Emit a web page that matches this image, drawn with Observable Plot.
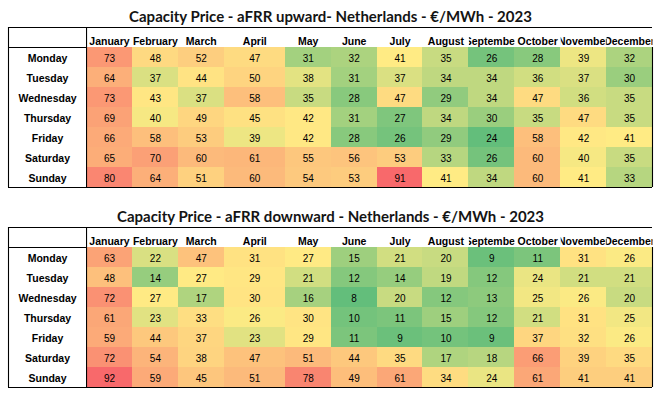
<!DOCTYPE html>
<html>
<head>
<meta charset="utf-8">
<script src="https://cdn.jsdelivr.net/npm/d3@7"></script>
<script src="https://cdn.jsdelivr.net/npm/@observablehq/plot@0.6"></script>
<style>
  body { margin: 0; background: #fff; }
  .block { width: 665px; height: 200px; position: relative; }
  .title { position: absolute; left: 8px; width: 645px; top: 7px; height: 20px; line-height: 20px;
           text-align: center; font: bold 15px Lato, "Open Sans", sans-serif; color: #141414; }
  .block svg { position: absolute; left: 0; top: 26px; display: block; }
</style>
</head>
<body>
<div id="root"></div>
<script>
const months = ["January","February","March","April","May","June","July","August","September","October","November","December"];
const days = ["Monday","Tuesday","Wednesday","Thursday","Friday","Saturday","Sunday"];

const titleUp = "Capacity Price - aFRR upward- Netherlands - €/MWh - 2023";
const titleDown = "Capacity Price - aFRR downward - Netherlands - €/MWh - 2023";

const upMonday    = [73,48,52,47,31,32,41,35,26,28,39,32];
const upTuesday   = [64,37,44,50,38,31,37,34,34,36,37,30];
const upWednesday = [73,43,37,58,35,28,47,29,34,47,36,35];
const upThursday  = [69,40,49,45,42,31,27,34,30,35,47,35];
const upFriday    = [66,58,53,39,42,28,26,29,24,58,42,41];
const upSaturday  = [65,70,60,61,55,56,53,33,26,60,40,35];
const upSunday    = [80,64,51,60,54,53,91,41,34,60,41,33];

const downMonday    = [63,22,47,31,27,15,21,20,9,11,31,26];
const downTuesday   = [48,14,27,29,21,12,14,19,12,24,21,21];
const downWednesday = [72,27,17,30,16,8,20,12,13,25,26,20];
const downThursday  = [61,23,33,26,30,10,11,15,12,21,31,25];
const downFriday    = [59,44,37,23,29,11,9,10,9,37,32,26];
const downSaturday  = [72,54,38,47,51,44,35,17,18,66,39,35];
const downSunday    = [92,59,45,51,78,49,61,34,24,61,41,41];

const upward = [upMonday, upTuesday, upWednesday, upThursday, upFriday, upSaturday, upSunday];
const downward = [downMonday, downTuesday, downWednesday, downThursday, downFriday, downSaturday, downSunday];

// layout (column widths in relative units)
const LABEL_SPAN = 1.7;
const colSpan = m => (m === "April" ? 1.33 : 1);
const cols = [];
{
  let acc = 0;
  for (const m of months) { const w = colSpan(m); cols.push({month: m, x1: acc, x2: acc + w, xm: acc + w / 2}); acc += w; }
}
const TOTAL = d3.sum(months, colSpan);
let clipId = 0;

function makeTable(values, title) {
  const block = document.createElement("div");
  block.className = "block";
  const t = document.createElement("div");
  t.className = "title";
  t.textContent = title;
  block.appendChild(t);

  const cells = days.flatMap((d, i) => months.map((m, j) => ({day: d, row: i + 1, ...cols[j], value: values[i][j]})));
  const vals = cells.map(d => d.value);
  const nRows = days.length + 1;
  const lw = 1.1;

  const chart = Plot.plot({
    width: 665, height: 162,
    marginLeft: 8, marginRight: 13, marginTop: 1, marginBottom: 1,
    x: {domain: [-LABEL_SPAN, TOTAL], axis: null},
    y: {domain: [0, nRows], reverse: true, axis: null},
    color: {type: "linear", domain: [d3.min(vals), d3.median(vals), d3.max(vals)],
            range: ["#63BE7B", "#FFEB84", "#F8696B"], interpolate: "rgb"},
    style: {fontFamily: "'Liberation Sans', Arial, sans-serif", background: "transparent", overflow: "visible", color: "black"},
    marks: [
      Plot.rect(cells, {x1: "x1", x2: "x2", y1: "row", y2: d => d.row + 1, fill: "value", shapeRendering: "crispEdges"}),
      Plot.text(cells, {x: "xm", y: d => d.row + 0.56, text: d => String(d.value), fontSize: 10, fill: "black"}),
      Plot.text(cols, {x: "xm", y: 0.7, text: "month", fontWeight: "bold", fontSize: 10.5, fill: "black", className: "hdr"}),
      Plot.text(days, {x: -LABEL_SPAN / 2, y: (d, i) => i + 1.56, text: d => d, fontWeight: "bold", fontSize: 10.5, fill: "black"}),
      Plot.ruleY([0], {x1: -LABEL_SPAN, x2: TOTAL, stroke: "black", strokeWidth: lw}),
      Plot.ruleY([1], {x1: -LABEL_SPAN, x2: 0, stroke: "black", strokeWidth: lw}),
      Plot.ruleY([nRows], {x1: -LABEL_SPAN, x2: TOTAL, stroke: "black", strokeWidth: lw}),
      Plot.ruleX([-LABEL_SPAN], {y1: 0, y2: nRows, stroke: "black", strokeWidth: lw}),
      Plot.ruleX([0], {y1: 0, y2: nRows, stroke: "black", strokeWidth: lw}),
      Plot.ruleX([TOTAL], {y1: 1, y2: nRows, stroke: "black", strokeWidth: lw})
    ]
  });

  // clip header labels to their own column, like spreadsheet cells
  const xs = chart.scale("x");
  const svg = d3.select(chart);
  let defs = svg.select("defs");
  if (defs.empty()) defs = svg.insert("defs", ":first-child");
  svg.selectAll("g.hdr text").each(function(_, i) {
    const c = cols[i];
    const id = "clipcol" + (clipId++);
    const a = xs.apply(c.x1), b = xs.apply(c.x2);
    defs.append("clipPath").attr("id", id).attr("clipPathUnits", "userSpaceOnUse")
      .append("rect").attr("x", a).attr("y", 0).attr("width", b - a).attr("height", 162);
    const wrap = document.createElementNS("http://www.w3.org/2000/svg", "g");
    wrap.setAttribute("clip-path", `url(#${id})`);
    this.parentNode.insertBefore(wrap, this);
    wrap.appendChild(this);
  });

  block.appendChild(chart);
  return block;
}

const root = document.getElementById("root");
root.appendChild(makeTable(upward, titleUp));
root.appendChild(makeTable(downward, titleDown));
</script>
</body>
</html>
